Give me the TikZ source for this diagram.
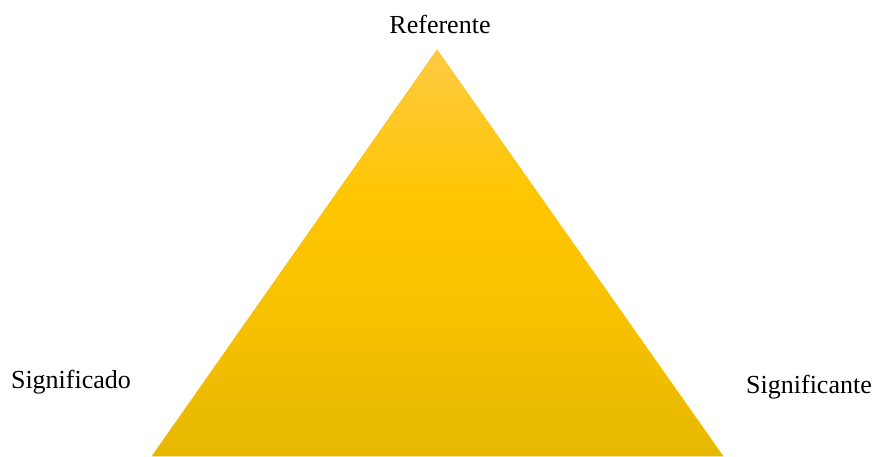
\documentclass[tikz,border=0pt]{standalone}
\usepackage{fontspec}
\setmainfont{Liberation Serif}
\definecolor{topc}{HTML}{FFCA45}
\definecolor{midc}{HTML}{FFC600}
\definecolor{lowc}{HTML}{F8C200}
\definecolor{botc}{HTML}{E6B800}
\pgfdeclareverticalshading{goldtri}{100bp}{%
  color(0bp)=(botc); color(25bp)=(botc); color(43.5bp)=(lowc);
  color(56.5bp)=(midc); color(75bp)=(topc); color(100bp)=(topc)}
\begin{document}
\begin{tikzpicture}[x=1pt,y=-1pt,
  lbl/.style={font=\fontsize{26}{30}\selectfont, anchor=base, inner sep=0pt}]
\useasboundingbox (0,0) rectangle (877,456);
\coordinate (apex) at (437,50);
\coordinate (bl) at (152,456);
\coordinate (br) at (723,456);
\shade[shading=goldtri, draw=midc!90!orange, line width=0.5pt] (apex) -- (br) -- (bl) -- cycle;
\node[lbl] (ref) at (440,33) {Referente};
\node[lbl] (sdo) at (71,388) {Significado};
\node[lbl] (ste) at (809,393) {Significante};
\end{tikzpicture}
\end{document}
